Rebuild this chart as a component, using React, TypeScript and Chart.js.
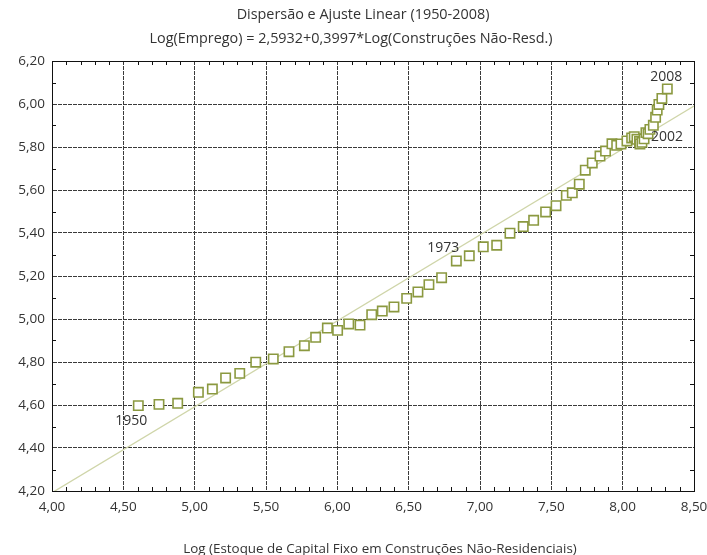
import React, { useEffect, useRef } from 'react';
import { Chart, registerables } from 'chart.js';

Chart.register(...registerables);

const TITLE_LINE_1 = 'Dispersão e Ajuste Linear (1950-2008)';
const TITLE_LINE_2 = 'Log(Emprego) = 2,5932+0,3997*Log(Construções Não-Resd.)';
const X_AXIS_TITLE = 'Log (Estoque de Capital Fixo em Construções Não-Residenciais)';

const FIRST_YEAR = 1950;
const LABELED_YEARS = [1950, 1973, 2002, 2008];

// Log of non-residential construction capital stock (x), 1950..2008
const X_LOG_CAPITAL = [
  4.605, 4.750, 4.881, 5.026, 5.124, 5.217, 5.316, 5.428, 5.551, 5.661,
  5.769, 5.848, 5.930, 6.002, 6.080, 6.159, 6.241, 6.315, 6.397, 6.486,
  6.565, 6.642, 6.731, 6.834, 6.925, 7.023, 7.117, 7.210, 7.303, 7.376,
  7.460, 7.533, 7.605, 7.647, 7.696, 7.738, 7.787, 7.841, 7.880, 7.925,
  7.958, 7.988, 8.030, 8.063, 8.081, 8.100, 8.118, 8.121, 8.135, 8.150,
  8.163, 8.178, 8.191, 8.215, 8.231, 8.242, 8.254, 8.275, 8.313,
];

// Log of employment (y), 1950..2008
const Y_LOG_EMPREGO = [
  4.597, 4.603, 4.608, 4.659, 4.674, 4.726, 4.747, 4.799, 4.814, 4.848,
  4.876, 4.915, 4.958, 4.947, 4.977, 4.972, 5.020, 5.037, 5.056, 5.096,
  5.126, 5.160, 5.192, 5.270, 5.294, 5.336, 5.343, 5.399, 5.430, 5.459,
  5.498, 5.527, 5.575, 5.587, 5.627, 5.692, 5.726, 5.758, 5.781, 5.815,
  5.808, 5.814, 5.828, 5.842, 5.848, 5.836, 5.826, 5.814, 5.822, 5.838,
  5.867, 5.862, 5.882, 5.901, 5.938, 5.972, 5.998, 6.026, 6.070,
];

const FIT_INTERCEPT = 2.5932;
const FIT_SLOPE = 0.3997;

const X_MIN = 4.0;
const X_MAX = 8.5;
const X_STEP = 0.5;
const Y_MIN = 4.2;
const Y_MAX = 6.2;
const Y_STEP = 0.2;

const FONT = "'Open Sans', 'DejaVu Sans', sans-serif";
const TEXT_COLOR = '#333333';
const MARKER_COLOR = '#8b9940';
const FIT_COLOR = '#cfd5a9';

const fmt = (v: number) => v.toFixed(2).replace('.', ',');

// label offsets relative to the marker, per labeled year
const LABEL_OFFSETS: Record<number, [number, number]> = {
  1950: [-7, 15],
  1973: [-13, -13],
  2002: [17, 8],
  2008: [-1, -12],
};

const decorPlugin = {
  id: 'decor',
  afterDraw(chart: any) {
    const { ctx, chartArea } = chart;
    const xs = chart.scales.x;
    const ys = chart.scales.y;
    const { left, right, top, bottom } = chartArea;
    ctx.save();
    // frame
    ctx.strokeStyle = '#111';
    ctx.lineWidth = 1;
    ctx.strokeRect(Math.round(left) + 0.5, Math.round(top) + 0.5, Math.round(right - left), Math.round(bottom - top));
    // minor ticks
    ctx.beginPath();
    for (let i = Math.round(X_MIN * 10); i <= Math.round(X_MAX * 10); i++) {
      if (i % 5 === 0) continue;
      const px = Math.round(xs.getPixelForValue(i / 10)) + 0.5;
      ctx.moveTo(px, bottom);
      ctx.lineTo(px, bottom - 4);
      ctx.moveTo(px, top);
      ctx.lineTo(px, top + 4);
    }
    for (let i = Math.round(Y_MIN * 10); i <= Math.round(Y_MAX * 10); i++) {
      if (i % 2 === 0) continue;
      const py = Math.round(ys.getPixelForValue(i / 10)) + 0.5;
      ctx.moveTo(left, py);
      ctx.lineTo(left + 4, py);
      ctx.moveTo(right, py);
      ctx.lineTo(right - 4, py);
    }
    ctx.stroke();

    // titles
    ctx.fillStyle = TEXT_COLOR;
    ctx.textAlign = 'center';
    ctx.textBaseline = 'middle';
    ctx.font = `14.4px ${FONT}`;
    ctx.fillText(TITLE_LINE_1, 363, 15);
    ctx.fillText(TITLE_LINE_2, 351, 39);
    ctx.font = `13.4px ${FONT}`;
    ctx.fillText(X_AXIS_TITLE, 380, 549);

    // year labels
    const meta = chart.getDatasetMeta(0);
    ctx.font = `14px ${FONT}`;
    LABELED_YEARS.forEach((yr) => {
      const pt = meta.data[yr - FIRST_YEAR];
      if (!pt) return;
      const off = LABEL_OFFSETS[yr] || [0, -12];
      ctx.fillText(String(yr), pt.x + off[0], pt.y + off[1]);
    });
    ctx.restore();
  },
};

export default function App() {
  const ref = useRef<HTMLCanvasElement>(null);
  useEffect(() => {
    if (!ref.current) return;
    const points = X_LOG_CAPITAL.map((x, i) => ({ x, y: Y_LOG_EMPREGO[i] }));
    const fitLine = [X_MIN, X_MAX].map((x) => ({ x, y: FIT_INTERCEPT + FIT_SLOPE * x }));
    const chart = new Chart(ref.current, {
      type: 'scatter',
      data: {
        datasets: [
          {
            label: 'Observações',
            data: points,
            pointStyle: 'rect',
            pointRadius: 6.6,
            pointBorderWidth: 1.6,
            pointBackgroundColor: '#ffffff',
            pointBorderColor: MARKER_COLOR,
            showLine: false,
          },
          {
            type: 'line',
            label: 'Ajuste',
            data: fitLine,
            borderColor: FIT_COLOR,
            borderWidth: 1.3,
            pointRadius: 0,
            fill: false,
          } as any,
        ],
      },
      options: {
        responsive: false,
        animation: false,
        events: [],
        layout: { padding: { top: 61, right: 13, left: 0, bottom: 0 } },
        plugins: {
          legend: { display: false },
          title: { display: false },
          tooltip: { enabled: false },
        },
        scales: {
          x: {
            type: 'linear',
            min: X_MIN,
            max: X_MAX,
            afterFit: (s: any) => { s.height = 64; s.paddingLeft = 0; s.paddingRight = 0; },
            ticks: {
              stepSize: X_STEP,
              callback: (v: any) => fmt(Number(v)),
              color: TEXT_COLOR,
              font: { family: FONT, size: 13.5 },
              padding: 8,
              maxRotation: 0,
            },
            grid: { color: '#3a3a3a', lineWidth: 1, drawTicks: false },
            border: { display: true, color: '#111', dash: [4, 1] },
          },
          y: {
            type: 'linear',
            min: Y_MIN,
            max: Y_MAX,
            afterFit: (s: any) => { s.width = 52; s.paddingTop = 0; s.paddingBottom = 0; },
            ticks: {
              stepSize: Y_STEP,
              callback: (v: any) => fmt(Number(v)),
              color: TEXT_COLOR,
              font: { family: FONT, size: 13.5 },
              padding: 7,
            },
            grid: { color: '#3a3a3a', lineWidth: 1, drawTicks: false },
            border: { display: true, color: '#111', dash: [4, 1] },
          },
        },
      },
      plugins: [decorPlugin],
    });
    return () => chart.destroy();
  }, []);
  return (
    <div style={{ position: 'absolute', left: 0, top: 0, width: 707, height: 555, background: '#fff' }}>
      <canvas ref={ref} width={707} height={555} style={{ display: 'block' }} />
    </div>
  );
}
